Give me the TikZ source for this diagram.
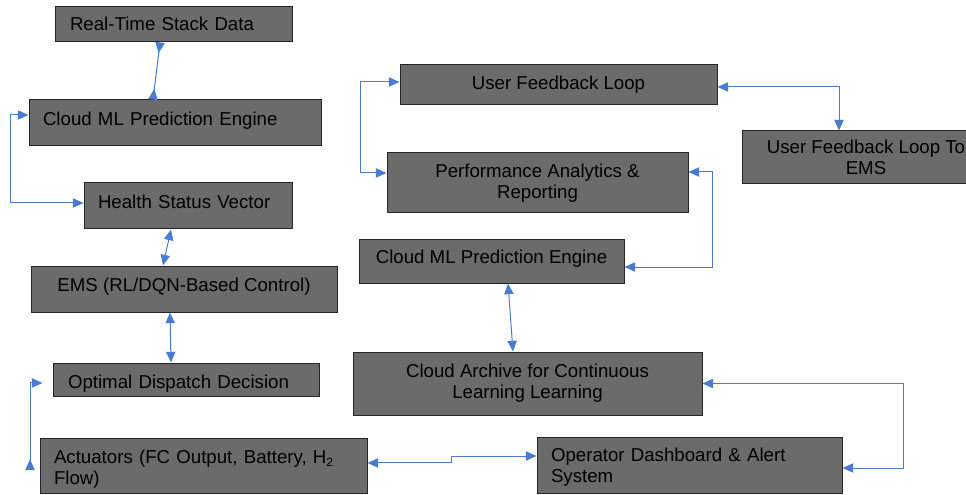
\documentclass[tikz,border=0pt]{standalone}
\usepackage{fontspec}
\setmainfont{Liberation Sans}
\usetikzlibrary{arrows.meta}
\definecolor{boxgray}{RGB}{107,107,107}
\definecolor{boxline}{RGB}{38,38,38}
\definecolor{linkblue}{RGB}{74,123,208}

\begin{document}
\begin{tikzpicture}[x=0.75pt,y=-0.75pt,
    box/.style={draw=boxline, line width=0.75pt, fill=boxgray, text=black,
      font=\fontsize{14}{15.75}\selectfont, inner xsep=10.5pt, inner ysep=0pt},
    oneline/.style={text height=10pt, text depth=#1},
    oneline/.default=6.8pt,
    link/.style={draw=linkblue, line width=0.75pt, >={Triangle[length=8pt,width=7pt]}},
    back/.tip={Triangle[reversed,length=8pt,width=7pt]}]
  \useasboundingbox (0,0) rectangle (966,495);
  \clip (0,0) rectangle (966,495);
  %left column
  \node[box, oneline=0.4pt, minimum width=177.75pt, minimum height=26.25pt, inner xsep=11.25pt, text width=155.25pt, align=left] (rt) at (173.5,24.5) {Real-Time Stack Data};
  \node[box, oneline, minimum width=219pt, minimum height=34.5pt, text width=198pt, align=left] (cml) at (175,123) {Cloud ML Prediction Engine};
  \node[box, oneline, minimum width=156pt, minimum height=34.5pt, text width=135pt, align=left] (hsv) at (188,206) {Health Status Vector};
  \node[box, oneline, minimum width=229.5pt, minimum height=34.5pt, align=center] (ems) at (184,289) {EMS (RL/DQN-Based Control)};
  \node[box, text height=13.8pt, text depth=0pt, minimum width=199.5pt, minimum height=24.75pt, inner xsep=11.25pt, text width=177pt, align=left] (odd) at (186,379.5) {Optimal Dispatch Decision};
  \node[box, minimum width=245.25pt, minimum height=41.25pt, text width=224.25pt, align=left] (act) at (203.5,465.5) {\rule{0pt}{16pt}Actuators (FC Output, Battery, H\raisebox{-2pt}{\fontsize{9}{9}\selectfont 2}\\Flow)};
  %right column
  \node[box, oneline=3pt, minimum width=237.75pt, minimum height=30pt, align=center] (ufl) at (558.5,85) {User Feedback Loop};
  \node[box, minimum width=225.75pt, minimum height=45pt, align=center] (par) at (537.5,183) {Performance Analytics \&\\Reporting};
  \node[box, oneline, minimum width=198.75pt, minimum height=33pt, align=center] (cml2) at (491.5,261) {Cloud ML Prediction Engine};
  \node[box, minimum width=186pt, minimum height=39.75pt, align=center] (ufe) at (866,157.5) {User Feedback Loop To\\EMS};
  \node[box, minimum width=261.75pt, minimum height=47.25pt, align=center] (arc) at (527.5,383.5) {Cloud Archive for Continuous\\Learning Learning};
  \node[box, minimum width=228.75pt, minimum height=42pt, text width=207.75pt, align=left] (ods) at (689.5,465) {\rule{0pt}{13pt}Operator Dashboard \& Alert\\System};
  \coordinate (actfree) at (30,470);
  %links
  \draw[link, back-back] ([xshift=-10.1pt]rt.south) -- ([xshift=-16.5pt]cml.north);
  \draw[link, <->] ([yshift=6pt]cml.west) -- ++(-18,0) |- ([yshift=2.25pt]hsv.west);
  \draw[link, <->] ([xshift=-12.75pt]hsv.south) -- ([xshift=-15.75pt]ems.north);
  \draw[link, <->] ([xshift=-10.5pt]ems.south) -- ([xshift=-11.25pt]odd.north);
  \draw[link, <-back] ([xshift=-7.5pt,yshift=-2.6pt]odd.west) -| (actfree);
  \draw[link, <->] ([yshift=1.9pt]act.east) -- ++(84,0) |- ([yshift=6.75pt]ods.west);
  \draw[link, <->] ([yshift=2.25pt]ufl.west) -- ++(-39,0) |- ([yshift=7.5pt]par.west);
  \draw[link, <->] ([yshift=-1.5pt]ufl.east) -| ([xshift=-20.25pt]ufe.north);
  \draw[link, <->] ([yshift=8.25pt]par.east) -- ++(24,0) |- ([yshift=-4.5pt]cml2.east);
  \draw[link, <->] ([xshift=12.4pt]cml2.south) -- ([xshift=-10.9pt]arc.north);
  \draw[link, <->] (arc.east) -- ++(201,0) |- ([yshift=-2.25pt]ods.east);
\end{tikzpicture}
\end{document}
